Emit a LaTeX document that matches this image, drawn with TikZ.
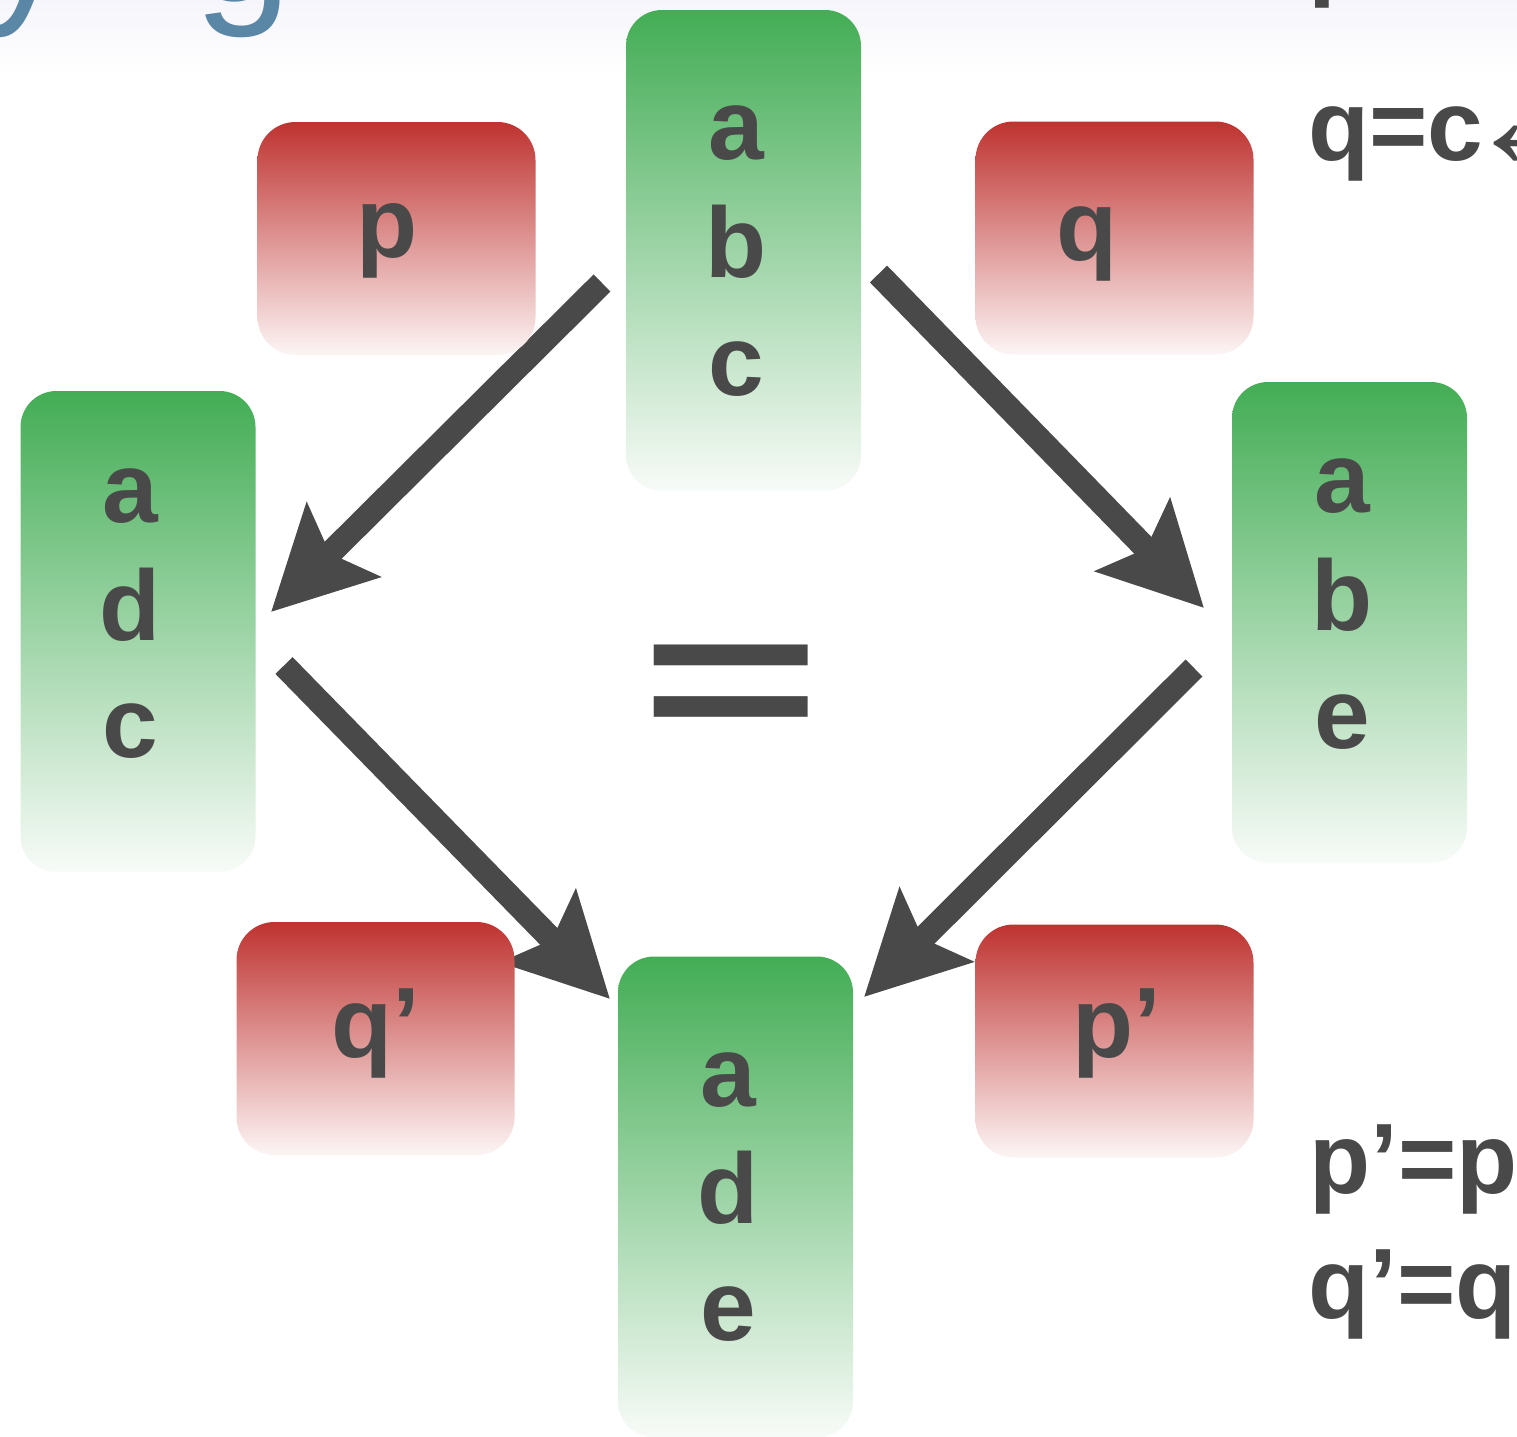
\documentclass[tikz,border=0pt]{standalone}
\usepackage{fontspec}
\setmainfont{Liberation Sans}
\usetikzlibrary{arrows.meta}
\definecolor{ink}{RGB}{73,73,73}
\definecolor{gtop}{RGB}{67,173,85}
\definecolor{gbot}{RGB}{248,251,248}
\definecolor{rtop}{RGB}{190,51,48}
\definecolor{rbot}{RGB}{252,245,245}
\definecolor{titleblue}{RGB}{91,135,166}
\definecolor{bgtop}{RGB}{245,245,251}
\begin{document}
\begin{tikzpicture}[x=1pt,y=-1pt,
  gbox/.style={draw=none, rounded corners=36pt, minimum width=235pt, minimum height=481pt, inner sep=0pt, top color=gtop, bottom color=gbot},
  rbox/.style={draw=none, rounded corners=38pt, minimum width=278pt, minimum height=233pt, inner sep=0pt, top color=rtop, bottom color=rbot},
  letter/.style={anchor=base, inner sep=0pt, text=ink, font=\fontsize{100}{100}\selectfont\bfseries},
  side/.style={anchor=base west, inner sep=0pt, text=ink, font=\fontsize{100}{100}\selectfont\bfseries},
  titlefrag/.style={anchor=base west, inner sep=0pt, text=titleblue, font=\fontsize{175}{175}\selectfont},
  bigarrow/.style={draw=ink, line width=24pt, -{Stealth[length=101pt,width=102pt,inset=18pt]}},
]
\useasboundingbox (0,0) rectangle (1517,1436);
\fill[white] (0,0) rectangle (1517,1436);
\shade[top color=bgtop, bottom color=white, draw=none] (0,0) rectangle (1517,75);

% title fragments (cut off at the top)
\node[titlefrag] (ty) at (-18,1) {y};
\node[titlefrag] (tg) at (194,1) {g};

% arrow end points
\coordinate (a1s) at (602,283);
\coordinate (a1e) at (271,612);
\coordinate (a2s) at (878.5,274);
\coordinate (a2e) at (1204,608);
\coordinate (a3s) at (284,665.5);
\coordinate (a3e) at (610,999);
\coordinate (a4s) at (1194,668);
\coordinate (a4e) at (864,997);

\draw[bigarrow] (a1s) -- (a1e);
\draw[bigarrow] (a2s) -- (a2e);
\draw[bigarrow] (a3s) -- (a3e);
\draw[bigarrow] (a4s) -- (a4e);

% green boxes
\node[gbox] (abc) at (743.5,250.5) {};
\node[gbox] (adc) at (138,631.5) {};
\node[gbox] (abe) at (1349.5,622.5) {};
\node[gbox] (ade) at (735.5,1197) {};

\node[letter] (abc1) at (736,159) {a};
\node[letter] (abc2) at (736,277) {b};
\node[letter] (abc3) at (736,395) {c};

\node[letter] (adc1) at (130.5,522) {a};
\node[letter] (adc2) at (130.5,640) {d};
\node[letter] (adc3) at (130.5,757) {c};

\node[letter] (abe1) at (1342,512) {a};
\node[letter] (abe2) at (1342,630) {b};
\node[letter] (abe3) at (1342,748) {e};

\node[letter] (ade1) at (728,1106) {a};
\node[letter] (ade2) at (728,1223) {d};
\node[letter] (ade3) at (728,1340) {e};

% red boxes
\node[rbox] (p) at (396.5,238.5) {};
\node[rbox] (q) at (1114.5,238) {};
\node[rbox] (qq) at (375.5,1038.5) {};
\node[rbox] (pp) at (1114.5,1041) {};

\node[letter] (pl) at (387,257) {p};
\node[letter] (ql) at (1087,260) {q};
\node[letter] (qql) at (376,1057) {q’};
\node[letter] (ppl) at (1117,1057) {p’};

% equals sign
\node[anchor=base, inner sep=0pt, text=ink, font=\fontsize{220}{220}\selectfont\bfseries, xscale=1.395, yscale=0.87] (eq) at (731.5,744) {=};

% side texts
\node[side] (sp) at (1308,-13) {p};
\node[side] (sq) at (1308,160) {q=c\kern-20pt{\mdseries\fontsize{150}{150}\selectfont\raisebox{-8pt}{←}}};
\node[side] (spp) at (1309,1193) {p’=p};
\node[side] (sqq) at (1308,1318) {q’=q};
\end{tikzpicture}
\end{document}
